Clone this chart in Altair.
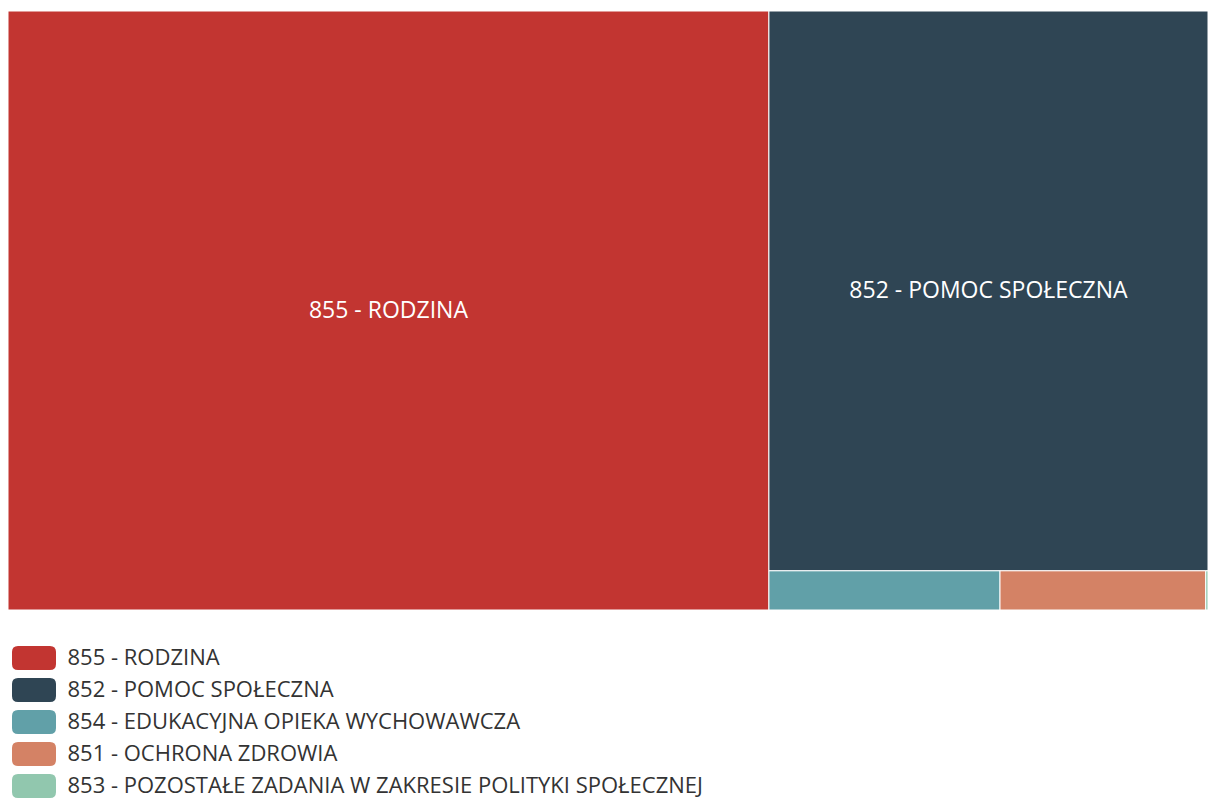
import altair as alt
import pandas as pd

# ---- data ----
categories = [
    "855 - RODZINA",
    "852 - POMOC SPOŁECZNA",
    "854 - EDUKACYJNA OPIEKA WYCHOWAWCZA",
    "851 - OCHRONA ZDROWIA",
    "853 - POZOSTAŁE ZADANIA W ZAKRESIE POLITYKI SPOŁECZNEJ",
]
values = [4580000, 2470000, 91000, 81000, 900]
colors = ["#c23531", "#2f4554", "#61a0a8", "#d48265", "#91c7ae"]

W, H = 1200, 599


def squarify(vals, x0, y0, x1, y1, ratio=(1 + 5 ** 0.5) / 2):
    """d3-style squarified treemap layout."""
    nodes = list(vals)
    out = [None] * len(nodes)
    n = len(nodes)
    value = float(sum(nodes))
    i0 = i1 = 0
    while i0 < n:
        dx, dy = x1 - x0, y1 - y0
        sumv = nodes[i1]
        i1 += 1
        minv = maxv = sumv
        alpha = max(dy / dx, dx / dy) / (value * ratio)
        beta = sumv * sumv * alpha
        min_ratio = max(maxv / beta, beta / minv)
        while i1 < n:
            nv = nodes[i1]
            sumv += nv
            minv = min(minv, nv)
            maxv = max(maxv, nv)
            beta = sumv * sumv * alpha
            new_ratio = max(maxv / beta, beta / minv)
            if new_ratio > min_ratio:
                sumv -= nv
                break
            min_ratio = new_ratio
            i1 += 1
        row = list(range(i0, i1))
        if dx < dy:  # dice: row across the top
            ny = y0 + dy * sumv / value if value else y1
            cx = x0
            for i in row:
                w = (x1 - x0) * nodes[i] / sumv
                out[i] = (cx, cx + w, y0, ny)
                cx += w
            y0 = ny
        else:  # slice: column on the left
            nx = x0 + dx * sumv / value if value else x1
            cy = y0
            for i in row:
                h = (y1 - y0) * nodes[i] / sumv
                out[i] = (x0, nx, cy, cy + h)
                cy += h
            x0 = nx
        value -= sumv
        i0 = i1
    return out


rects = squarify(values, 0, 0, W, H)
df = pd.DataFrame({
    "name": categories,
    "value": values,
    "x0": [r[0] for r in rects],
    "x1": [r[1] for r in rects],
    "y0": [r[2] for r in rects],
    "y1": [r[3] for r in rects],
})
df["cx"] = (df.x0 + df.x1) / 2
df["cy"] = (df.y0 + df.y1) / 2
df["area"] = (df.x1 - df.x0) * (df.y1 - df.y0)

xs = alt.Scale(domain=[0, W], nice=False, zero=False)
ys = alt.Scale(domain=[0, H], nice=False, zero=False, reverse=True)

legend_path = ("M-0.914,-0.686 L0.914,-0.686 Q1.257,-0.686 1.257,-0.343 "
               "L1.257,0.343 Q1.257,0.686 0.914,0.686 L-0.914,0.686 "
               "Q-1.257,0.686 -1.257,0.343 L-1.257,-0.343 "
               "Q-1.257,-0.686 -0.914,-0.686 Z")

color = alt.Color(
    "name:N",
    scale=alt.Scale(domain=categories, range=colors),
    legend=alt.Legend(
        title=None,
        orient="none",
        legendX=8.5,
        legendY=629.5,
        direction="vertical",
        symbolType=legend_path,
        symbolSize=1225,
        symbolStrokeWidth=0,
        symbolOpacity=1,
        labelFont="Open Sans",
        labelFontSize=22,
        labelColor="#333333",
        labelOffset=16,
        labelLimit=1000,
        rowPadding=2,
        padding=0,
    ),
)

rect = alt.Chart(df).mark_rect(stroke="white", strokeWidth=1).encode(
    x=alt.X("x0:Q", scale=xs, axis=None),
    x2="x1:Q",
    y=alt.Y("y0:Q", scale=ys, axis=None),
    y2="y1:Q",
    color=color,
    tooltip=["name:N", "value:Q"],
)

text = alt.Chart(df).transform_filter(alt.datum.area > 50000).mark_text(
    font="Open Sans", fontSize=23, color="white", align="center", baseline="middle"
).encode(
    x=alt.X("cx:Q", scale=xs, axis=None),
    y=alt.Y("cy:Q", scale=ys, axis=None),
    text="name:N",
)

chart = alt.layer(rect, text).properties(
    width=W,
    height=H,
    autosize=alt.AutoSizeParams(type="none"),
    padding={"left": 0, "top": 3, "right": 0, "bottom": 192},
).configure_view(stroke=None)

chart.save("out.html", embed_options={"renderer": "svg", "actions": False})
